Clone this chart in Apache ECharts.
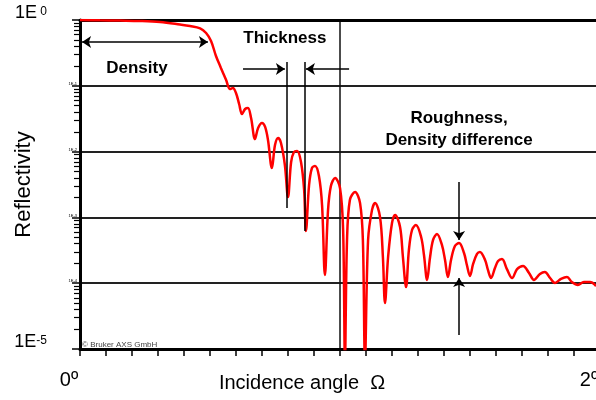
<!DOCTYPE html>
<html><head><meta charset="utf-8">
<script src="https://cdn.jsdelivr.net/npm/echarts@6/dist/echarts.min.js"></script>
<style>html,body{margin:0;padding:0;background:#fff}#c{width:596px;height:400px}</style>
</head><body><div id="c"></div>
<script>
// Incidence angle (degrees)
const angleDeg = [0,0.077,0.154,0.231,0.308,0.385,0.423,0.462,0.485,0.504,0.523,0.542,0.562,0.577,0.588,0.600,0.612,0.623,0.635,0.646,0.658,0.673,0.685,0.700,0.712,0.723,0.738,0.750,0.762,0.773,0.788,0.800,0.812,0.823,0.835,0.850,0.862,0.869,0.881,0.892,0.904,0.919,0.931,0.942,0.954,0.965,0.981,1.000,1.012,1.019,1.027,1.038,1.058,1.077,1.088,1.096,1.108,1.123,1.135,1.154,1.165,1.173,1.185,1.200,1.212,1.231,1.242,1.254,1.265,1.277,1.292,1.312,1.323,1.335,1.346,1.358,1.373,1.392,1.404,1.415,1.427,1.442,1.458,1.477,1.488,1.500,1.512,1.527,1.538,1.558,1.569,1.581,1.596,1.608,1.623,1.642,1.662,1.681,1.704,1.727,1.746,1.769,1.788,1.808,1.827,1.850,1.873,1.892,1.915,1.938,1.962,1.985];
// Reflectivity
const reflectivity = [1,0.989,0.979,0.966,0.932,0.854,0.811,0.748,0.634,0.48,0.284,0.187,0.1225,0.0894,0.0926,0.0778,0.0529,0.0373,0.0444,0.046,0.0324,0.0155,0.0228,0.0272,0.0237,0.015,0.00563,0.0126,0.0161,0.0135,0.00625,0.00204,0.00695,0.00986,0.0102,0.00695,0.00261,0.000621,0.0031,0.00563,0.00604,0.00426,0.00154,0.000133,0.00129,0.003,0.00397,0.0028,0.000644,6.8e-6,0.000454,0.00184,0.00243,0.00166,0.000454,6.8e-6,0.000454,0.00129,0.00166,0.00101,0.00025,5.0e-5,0.00025,0.000822,0.00109,0.000715,0.00025,8.75e-5,0.00032,0.000644,0.000766,0.000504,0.000268,0.000112,0.000242,0.000454,0.00056,0.000381,0.000225,0.000124,0.000225,0.000367,0.000408,0.000288,0.000189,0.000129,0.000196,0.000278,0.000298,0.000225,0.000159,0.00012,0.00017,0.000217,0.000233,0.000164,0.00012,0.000164,0.000183,0.000143,0.000112,0.000138,0.000148,0.00012,0.000101,0.000116,0.000124,0.000104,9.4e-5,0.000104,0.000104,9.06e-5];
// Tick labels
const xTickLabels = {0: '0º', 2: '2º'};
const yTickExponents = {'0': ' 0', '-1': '-1', '-2': '-2', '-3': '-3', '-4': '-4', '-5': '-5'};
const yShownExponents = ['0', '-5'];
// Annotations (angle, reflectivity)
const densityArrow = [[0.008, 0.463], [0.492, 0.463]];
const thicknessArrowLeft = [[0.627, 0.18], [0.788, 0.18]];
const thicknessArrowRight = [[1.035, 0.18], [0.869, 0.18]];
const thicknessLine1 = [[0.796, 0.23], [0.796, 0.00139]];
const thicknessLine2 = [[0.865, 0.23], [0.865, 0.00062]];
const roughArrowDown = [[1.458, 0.00345], [1.458, 0.000454]];
const roughArrowUp = [[1.458, 1.63e-5], [1.458, 1.2e-4]];
const labelDensity = {text: 'Density', at: [0.219, 0.186]};
const labelThickness = {text: 'Thickness', at: [0.788, 0.532]};
const labelRoughness = {text: 'Roughness,\nDensity difference', at: [1.458, 0.022]};
const labelCopyright = {text: '© Bruker AXS GmbH', at: [0.008, 1.15e-5]};

const FONT = "'Liberation Sans', Arial, sans-serif";
const chart = echarts.init(document.getElementById('c'), null, {renderer: 'canvas'});
function seg(p, s1, s2) {
  return [{coord: p[0], symbol: s1}, {coord: p[1], symbol: s2}];
}
function txt(l, pos) {
  return {coord: l.at, value: l.text, symbolSize: 0,
    label: {show: true, position: pos || 'inside', distance: 0, formatter: l.text}};
}
chart.setOption({
  animation: false,
  grid: {left: 80, top: 20, width: 520, height: 329, containLabel: false, outerBoundsMode: 'none'},
  xAxis: [{
    type: 'value', min: 0, max: 2, interval: 0.1,
    name: 'Incidence angle  Ω', nameLocation: 'middle', nameGap: 24, nameMoveOverlap: false,
    nameTextStyle: {fontFamily: FONT, fontSize: 20, color: '#000', padding: [0, 76, 0, 0]},
    axisLine: {show: true, lineStyle: {color: '#000', width: 3}},
    axisTick: {show: true, length: 7, lineStyle: {color: '#000', width: 1.5}},
    splitLine: {show: false},
    axisLabel: {
      margin: 21, fontFamily: FONT, fontSize: 20, color: '#000', padding: [0, 22, 0, 0],
      showMaxLabel: true, showMinLabel: true,
      formatter: v => {
        for (const k in xTickLabels) { if (Math.abs(v - Number(k)) < 1e-6) return xTickLabels[k]; }
        return '';
      }
    }
  }, {
    type: 'value', min: 0, max: 2, interval: 1, position: 'top',
    axisLine: {show: true, lineStyle: {color: '#000', width: 3}},
    axisTick: {show: false}, axisLabel: {show: false},
    splitLine: {show: true, lineStyle: {color: '#111', width: 1.5}}
  }],
  yAxis: {
    type: 'log', logBase: 10, min: 1e-5, max: 1,
    name: 'Reflectivity', nameLocation: 'middle', nameGap: 45, nameRotate: 90, nameMoveOverlap: false,
    nameTextStyle: {fontFamily: FONT, fontSize: 22, color: '#000'},
    axisLine: {show: true, lineStyle: {color: '#000', width: 3}},
    axisTick: {show: true, length: 8, lineStyle: {color: '#000', width: 1.5}},
    minorTick: {show: true, splitNumber: 9, length: 6, lineStyle: {color: '#000', width: 1.2}},
    splitLine: {show: true, lineStyle: {color: '#222', width: 2}},
    axisLabel: {
      margin: 3, verticalAlign: 'bottom', align: 'right',
      formatter: v => {
        const e = String(Math.round(Math.log10(v)));
        if (yShownExponents.indexOf(e) >= 0) return '{b|1E}{s|' + yTickExponents[e] + '}';
        return '{t|1E' + yTickExponents[e] + '}';
      },
      rich: {
        b: {fontFamily: FONT, fontSize: 18, color: '#000', lineHeight: 14},
        s: {fontFamily: FONT, fontSize: 12, color: '#000', verticalAlign: 'top', lineHeight: 14, padding: [0, 30, 0, 0]},
        t: {fontFamily: FONT, fontSize: 4, color: '#000'}
      }
    }
  },
  series: [{
    type: 'line', xAxisIndex: 0, yAxisIndex: 0,
    data: angleDeg.map((a, i) => [a, reflectivity[i]]),
    showSymbol: false, symbol: 'none', smooth: 0.35, clip: true,
    lineStyle: {color: '#ff0000', width: 2.5},
    markLine: {
      silent: true, symbolSize: 9, animation: false,
      lineStyle: {color: '#000', width: 1.5, type: 'solid'},
      label: {show: false},
      data: [
        seg(densityArrow, 'arrow', 'arrow'),
        seg(thicknessArrowLeft, 'none', 'arrow'),
        seg(thicknessArrowRight, 'none', 'arrow'),
        seg(thicknessLine1, 'none', 'none'),
        seg(thicknessLine2, 'none', 'none'),
        seg(roughArrowDown, 'none', 'arrow'),
        seg(roughArrowUp, 'none', 'arrow')
      ]
    },
    markPoint: {
      silent: true, symbol: 'circle', symbolSize: 0, animation: false,
      label: {fontFamily: FONT, fontSize: 17, fontWeight: 'bold', color: '#000', lineHeight: 22},
      data: [
        txt(labelDensity), txt(labelThickness), txt(labelRoughness),
        Object.assign(txt(labelCopyright, 'right'), {label: {show: true, position: 'right', distance: 0,
          formatter: labelCopyright.text, fontSize: 8, fontWeight: 'normal', color: '#444', fontFamily: FONT}})
      ]
    }
  }]
});
</script></body></html>
